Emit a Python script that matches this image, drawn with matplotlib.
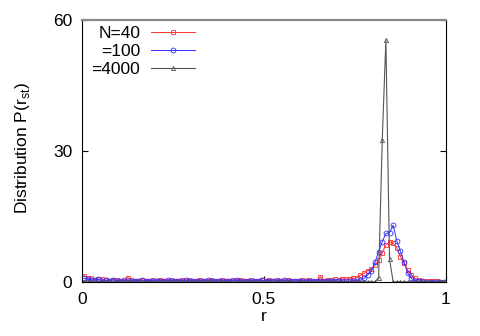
import numpy as np
import matplotlib
matplotlib.use("Agg")
import matplotlib.pyplot as plt

plt.rcParams['font.family'] = ['Liberation Sans', 'DejaVu Sans']

# bin centres of r
r = np.linspace(0.005, 0.995, 100)

p_n40 = [1.4, 0.8, 0.9, 0.5, 0.6, 0.7, 0.4, 0.3, 0.5, 0.4,
         0.2, 0.3, 1.0, 0.4, 0.2, 0.3, 0.5, 0.2, 0.3, 0.4,
         0.2, 0.5, 0.3, 0.2, 0.4, 0.3, 0.2, 0.4, 0.3, 0.5,
         0.2, 0.3, 0.4, 0.2, 0.3, 0.5, 0.3, 0.2, 0.4, 0.3,
         0.2, 0.4, 0.3, 0.5, 0.2, 0.3, 0.4, 0.3, 0.2, 0.4,
         0.3, 0.5, 0.2, 0.4, 0.3, 0.2, 0.4, 0.3, 0.2, 0.3,
         0.4, 0.3, 0.5, 0.3, 0.2, 1.2, 0.3, 0.5, 0.4, 0.6,
         0.5, 0.7, 0.6, 0.7,
         0.8, 1.0, 1.5, 2.0, 2.6, 3.0, 3.8, 5.0, 6.7, 8.5,
         9.2, 8.9, 7.7, 5.8, 4.3, 2.7, 1.6, 0.8, 0.5, 0.3,
         0.2, 0.1, 0.1, 0.1, 0.0, 0.0]

p_n100 = [0.8, 0.6, 0.5, 0.4, 0.6, 0.3, 0.4, 0.2, 0.5, 0.3,
          0.2, 0.4, 0.3, 0.2, 0.3, 0.2, 0.4, 0.3, 0.2, 0.3,
          0.2, 0.3, 0.2, 0.4, 0.2, 0.3, 0.2, 0.3, 0.4, 0.2,
          0.3, 0.2, 0.3, 0.2, 0.4, 0.2, 0.3, 0.2, 0.3, 0.2,
          0.3, 0.2, 0.4, 0.2, 0.3, 0.2, 0.3, 0.2, 0.3, 0.4,
          0.2, 0.3, 0.2, 0.3, 0.2, 0.4, 0.2, 0.3, 0.2, 0.3,
          0.2, 0.3, 0.2, 0.3, 0.2, 0.3, 0.2, 0.3, 0.2, 0.3,
          0.2, 0.2, 0.2, 0.2,
          0.2, 0.2, 0.4, 0.8, 1.6, 2.5, 4.5, 6.9, 9.2, 11.1,
          11.3, 13.0, 9.4, 7.0, 4.5, 2.0, 0.8, 0.3, 0.1, 0.1,
          0.0, 0.0, 0.0, 0.0, 0.0, 0.0]

p_n4000 = [0.0] * 81 + [1.0, 32.5, 55.5, 5.2] + [0.0] * 15

fs = 12.5

fig = plt.figure(figsize=(4.8, 3.36), dpi=100)
ax = fig.add_axes([0.171, 0.161, 0.758, 0.779])

ax.plot(r, p_n40, color='#ff3030', lw=0.7, marker='s', ms=3.5, mfc='none', mew=0.6, label='N=40')
ax.plot(r, p_n100, color='#3030ff', lw=0.7, marker='o', ms=3.5, mfc='none', mew=0.6, label='=100')
ax.plot(r, p_n4000, color='#555555', lw=0.8, marker='^', ms=3.0, mfc='none', mew=0.6, label='=4000')

ax.set_xlim(0, 1)
ax.set_ylim(0, 60)
ax.set_xticks([0, 0.5, 1])
ax.set_xticklabels(['0', '0.5', '1'])
ax.set_yticks([0, 30, 60])
ax.tick_params(direction='in', length=4, width=0.8, labelsize=fs, pad=7,
               right=True, top=False)
ax.spines['top'].set_color('#888888')
ax.spines['top'].set_linewidth(1.6)

ax.set_xlabel('r', fontsize=fs, labelpad=2)
ax.set_ylabel('Distribution P(r$_{\\mathregular{st}}$)', fontsize=fs)
ax.yaxis.set_label_coords(-0.137, 0.51)

ax.legend(loc='upper right', bbox_to_anchor=(0.31, 0.977), frameon=False, markerfirst=False,
          fontsize=fs, handlelength=2.5, labelspacing=0.15, borderpad=0, borderaxespad=0,
          handletextpad=0.65)

fig.savefig('out.png', dpi=100)
